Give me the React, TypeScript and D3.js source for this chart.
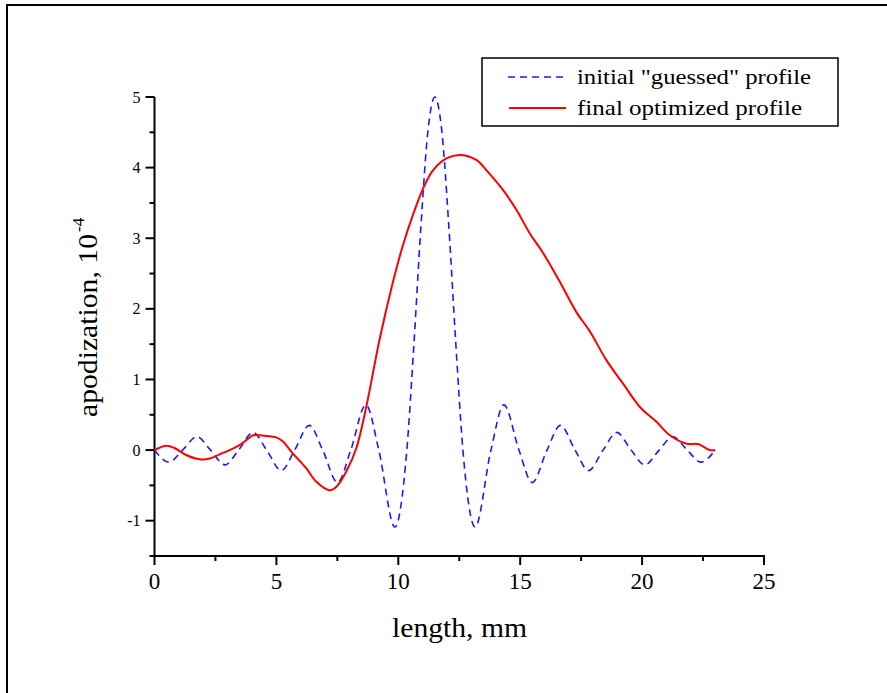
import React from "react";
import * as d3 from "d3";

const xTicks = [0, 5, 10, 15, 20, 25];
const xMinor = [2.5, 7.5, 12.5, 17.5, 22.5];
const yTicks = [-1, 0, 1, 2, 3, 4, 5];
const yMinor = [-1.5, -0.5, 0.5, 1.5, 2.5, 3.5, 4.5];

const guessX = [0, 0.59, 1.15, 1.74, 2.3, 2.89, 3.45, 4.04, 4.6, 5.2, 5.75, 6.35, 6.9, 7.51, 8.05, 8.67, 9.2, 9.86, 10.35, 10.64, 10.93, 11.21, 11.5, 11.79, 12.07, 12.36, 12.65, 13.15, 13.8, 14.33, 14.95, 15.49, 16.1, 16.65, 17.25, 17.8, 18.4, 18.96, 19.55, 20.11, 20.7, 21.26, 21.85, 22.41, 23];
const guessY = [0, -0.17, 0, 0.19, 0, -0.21, 0, 0.25, 0, -0.29, 0, 0.35, 0, -0.46, 0, 0.64, 0, -1.09, 0, 1.5, 3.18, 4.5, 5.0, 4.5, 3.18, 1.5, 0, -1.09, 0, 0.64, 0, -0.46, 0, 0.35, 0, -0.29, 0, 0.25, 0, -0.21, 0, 0.19, 0, -0.17, 0];

const finalX = [0, 0.48, 0.82, 1.3, 1.85, 2.26, 2.67, 3.08, 3.49, 3.76, 4.04, 4.31, 4.58, 5.0, 5.27, 5.68, 6.23, 6.64, 7.18, 7.46, 7.87, 8.28, 8.69, 9.24, 9.78, 10.19, 10.6, 11.01, 11.42, 11.97, 12.52, 13.2, 13.62, 14.3, 14.85, 15.39, 15.94, 16.63, 17.31, 17.86, 18.54, 19.22, 19.91, 20.59, 21.14, 21.83, 22.3, 22.78, 23.0];
const finalY = [0, 0.06, 0.03, -0.07, -0.13, -0.12, -0.06, 0, 0.07, 0.14, 0.21, 0.21, 0.2, 0.18, 0.12, -0.05, -0.26, -0.45, -0.57, -0.52, -0.3, 0.03, 0.62, 1.58, 2.38, 2.9, 3.33, 3.7, 3.96, 4.13, 4.18, 4.11, 3.96, 3.68, 3.4, 3.07, 2.79, 2.38, 1.95, 1.68, 1.27, 0.94, 0.61, 0.4, 0.21, 0.09, 0.085, 0.0, 0.0];

const FONT = "'Liberation Serif', 'DejaVu Serif', serif";

export default function App() {
  const x = d3.scaleLinear().domain([0, 25]).range([154.5, 764]);
  const y = d3.scaleLinear().domain([-1.5, 5]).range([556, 97]);

  const guessPts: [number, number][] = guessX.map((v, i) => [v, guessY[i]]);
  const finalPts: [number, number][] = finalX.map((v, i) => [v, finalY[i]]);

  const lineMono = d3
    .line<[number, number]>()
    .x((d) => x(d[0]))
    .y((d) => y(d[1]))
    .curve(d3.curveMonotoneX);
  const lineSmooth = d3
    .line<[number, number]>()
    .x((d) => x(d[0]))
    .y((d) => y(d[1]))
    .curve(d3.curveCatmullRom.alpha(0.5));

  const x0 = x(0);
  const yb = y(-1.5);

  return (
    <svg
      width={887}
      height={693}
      style={{ position: "absolute", left: 0, top: 0, background: "#fff" }}
      fontFamily={FONT}
    >
      <rect x={0} y={0} width={887} height={693} fill="#fff" />
      <rect x={7} y={5} width={900} height={720} fill="none" stroke="#000" strokeWidth={2} />

      {/* axes */}
      <line x1={x0} x2={x0} y1={y(5)} y2={yb} stroke="#000" strokeWidth={2} />
      <line x1={x0 - 1} x2={x(25) + 1} y1={yb} y2={yb} stroke="#000" strokeWidth={2} />

      {yTicks.map((t) => (
        <g key={"yt" + t}>
          <line x1={x0 - 9} x2={x0} y1={y(t)} y2={y(t)} stroke="#000" strokeWidth={2} />
          <text x={x0 - 14} y={y(t)} dy="0.35em" textAnchor="end" fontSize={16}>
            {t}
          </text>
        </g>
      ))}
      {yMinor.map((t) => (
        <line key={"ym" + t} x1={x0 - 5} x2={x0} y1={y(t)} y2={y(t)} stroke="#000" strokeWidth={2} />
      ))}
      {xTicks.map((t) => (
        <g key={"xt" + t}>
          <line x1={x(t)} x2={x(t)} y1={yb} y2={yb + 9} stroke="#000" strokeWidth={2} />
          <text x={x(t)} y={589} textAnchor="middle" fontSize={23}>
            {t}
          </text>
        </g>
      ))}
      {xMinor.map((t) => (
        <line key={"xm" + t} x1={x(t)} x2={x(t)} y1={yb} y2={yb + 5} stroke="#000" strokeWidth={2} />
      ))}

      {/* axis titles */}
      <text x={392} y={637} fontSize={27} textLength={135} lengthAdjust="spacingAndGlyphs">
        length, mm
      </text>
      <g transform="translate(97,417) rotate(-90)">
        <text x={0} y={0} fontSize={27} textLength={183} lengthAdjust="spacingAndGlyphs">
          apodization, 10
        </text>
        <text x={185} y={-13} fontSize={17}>
          -4
        </text>
      </g>

      {/* data */}
      <path d={lineMono(guessPts) || ""} fill="none" stroke="#1a1aff" strokeWidth={1.6} strokeDasharray="7,5" />
      <path d={lineSmooth(finalPts) || ""} fill="none" stroke="#ff0000" strokeWidth={2} />

      {/* legend */}
      <rect x={482} y={58} width={356} height={68} fill="#fff" stroke="#000" strokeWidth={1.5} />
      <line x1={508} x2={563} y1={77} y2={77} stroke="#1a1aff" strokeWidth={1.6} strokeDasharray="7,5" />
      <line x1={509} x2={566} y1={108} y2={108} stroke="#ff0000" strokeWidth={2} />
      <text x={577} y={84} fontSize={22} textLength={234} lengthAdjust="spacingAndGlyphs">
        initial "guessed" profile
      </text>
      <text x={577} y={115} fontSize={22} textLength={225} lengthAdjust="spacingAndGlyphs">
        final optimized profile
      </text>
    </svg>
  );
}
